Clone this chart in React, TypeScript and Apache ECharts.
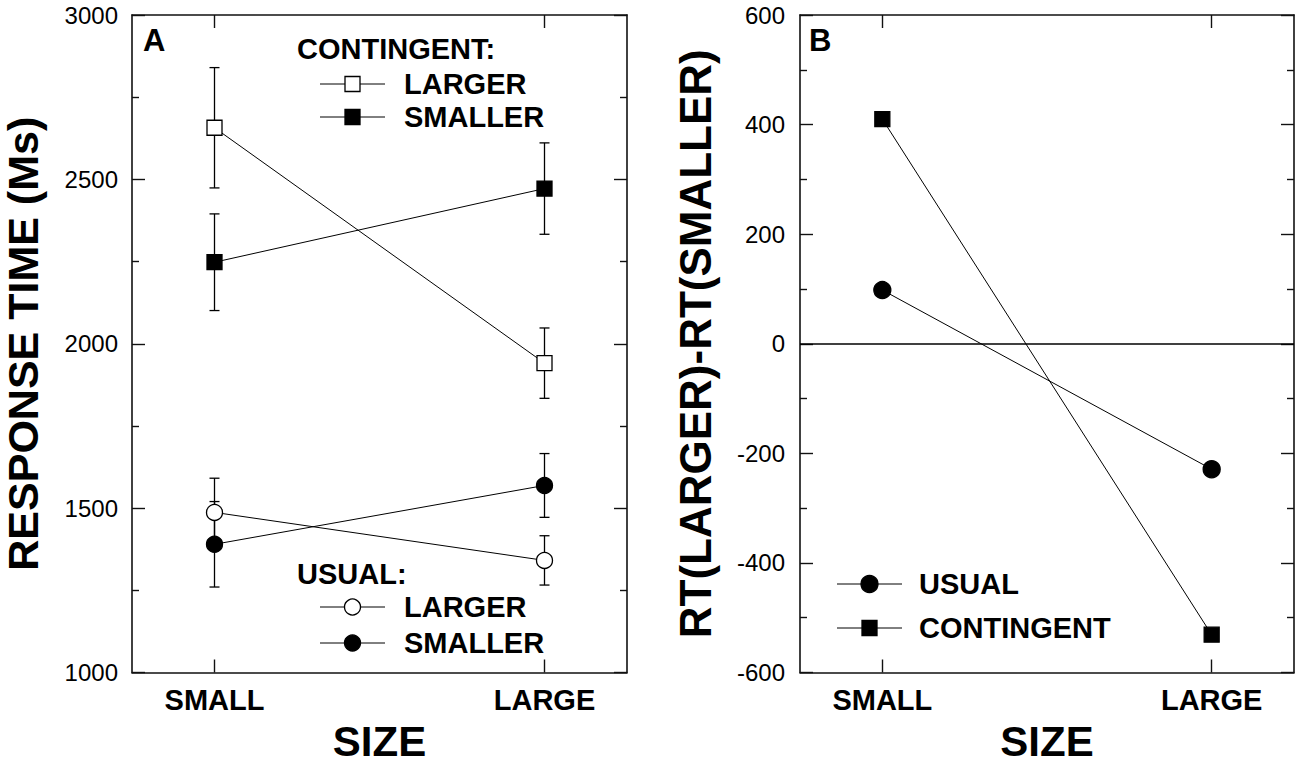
import React, { useEffect, useRef } from 'react';
import * as echarts from 'echarts';

// ---- data ----
const sizeCategories = ['SMALL', 'LARGE'];
const contingentLarger = [2657, 1941];
const contingentLargerErr = [183, 107];
const contingentSmaller = [2248, 2472];
const contingentSmallerErr = [147, 139];
const usualLarger = [1487, 1341];
const usualLargerErr = [104, 75];
const usualSmaller = [1390, 1569];
const usualSmallerErr = [130, 97];
const diffUsual = [98, -229];
const diffContingent = [410, -531];
const rtAxis = { min: 1000, max: 3000, interval: 500 };
const diffAxis = { min: -600, max: 600, interval: 200 };

const FONT = '"Liberation Sans", Arial, Helvetica, sans-serif';
const INK = '#000';
const AXC = '#111';

const xAxisDef = (gridIndex: number, position: 'bottom' | 'top') => ({
  type: 'value',
  gridIndex,
  position,
  min: -0.25,
  max: 1.25,
  axisLine: { show: true, onZero: false, lineStyle: { color: AXC, width: 1.6 } },
  axisTick: {
    show: true,
    inside: true,
    length: 13,
    customValues: [0, 1],
    lineStyle: { color: AXC, width: 1.4 },
  },
  axisLabel: {
    show: position === 'bottom',
    customValues: [0, 1],
    margin: 13,
    formatter: (v: number) => sizeCategories[Math.round(v)] ?? '',
    color: INK,
    fontFamily: FONT,
    fontWeight: 'bold',
    fontSize: 29,
  },
  splitLine: { show: false },
  ...(position === 'bottom'
    ? {
        name: 'SIZE',
        nameLocation: 'middle',
        nameGap: 51.5,
        nameTextStyle: { color: INK, fontFamily: FONT, fontWeight: 'bold', fontSize: 42, lineHeight: 34 },
      }
    : {}),
});

const yAxisDef = (
  gridIndex: number,
  position: 'left' | 'right',
  range: { min: number; max: number; interval: number },
  name: string,
  nameGap: number,
  nameSize: number,
  labelMargin: number
) => ({
  type: 'value',
  gridIndex,
  position,
  min: range.min,
  max: range.max,
  interval: range.interval,
  axisLine: { show: true, onZero: false, lineStyle: { color: AXC, width: 1.6 } },
  axisTick: { show: true, inside: true, length: 13, lineStyle: { color: AXC, width: 1.4 } },
  minorTick: { show: true, splitNumber: 2, length: 7, lineStyle: { color: AXC, width: 1.4 } },
  axisLabel: {
    show: position === 'left',
    margin: labelMargin,
    formatter: (v: number) => String(v),
    color: INK,
    fontFamily: FONT,
    fontSize: 24,
  },
  splitLine: { show: false },
  ...(position === 'left'
    ? {
        name,
        nameLocation: 'middle',
        nameGap,
        nameTextStyle: {
          color: INK,
          fontFamily: FONT,
          fontWeight: 'bold',
          fontSize: nameSize,
          lineHeight: 34,
        },
      }
    : {}),
});

const errorRender = (_params: any, api: any) => {
  const x = api.value(0);
  const lo = api.coord([x, api.value(1)]);
  const hi = api.coord([x, api.value(2)]);
  const w = 5;
  const style = { stroke: INK, lineWidth: 1.3 };
  return {
    type: 'group',
    children: [
      { type: 'line', shape: { x1: lo[0], y1: lo[1], x2: hi[0], y2: hi[1] }, style },
      { type: 'line', shape: { x1: hi[0] - w, y1: hi[1], x2: hi[0] + w, y2: hi[1] }, style },
      { type: 'line', shape: { x1: lo[0] - w, y1: lo[1], x2: lo[0] + w, y2: lo[1] }, style },
    ],
  };
};

const errorSeries = (values: number[], errs: number[]) => ({
  type: 'custom',
  xAxisIndex: 0,
  yAxisIndex: 0,
  silent: true,
  z: 1,
  renderItem: errorRender,
  encode: { x: 0, y: [1, 2] },
  data: values.map((v, i) => [i, v - errs[i], v + errs[i]]),
});

const lineSeries = (
  name: string,
  values: number[],
  axis: number,
  symbol: string,
  size: number,
  fill: string
) => ({
  name,
  type: 'line',
  xAxisIndex: axis,
  yAxisIndex: axis,
  z: 3,
  symbol,
  symbolSize: size,
  showSymbol: true,
  silent: true,
  lineStyle: { color: INK, width: 1 },
  itemStyle: { color: fill, borderColor: INK, borderWidth: 1.3 },
  data: values.map((v, i) => [i, v]),
});

// legend helper (graphic)
const legendRow = (
  x1: number,
  x2: number,
  cy: number,
  marker: 'rect' | 'circle',
  fill: string,
  size: number,
  textX: number,
  label: string
) => {
  const cx = (x1 + x2) / 2;
  const els: any[] = [
    { type: 'line', shape: { x1, y1: cy, x2, y2: cy }, style: { stroke: INK, lineWidth: 1 } },
  ];
  if (marker === 'rect') {
    els.push({
      type: 'rect',
      shape: { x: cx - size / 2, y: cy - size / 2, width: size, height: size },
      style: { fill, stroke: INK, lineWidth: 1.3 },
    });
  } else {
    els.push({
      type: 'circle',
      shape: { cx, cy, r: size / 2 },
      style: { fill, stroke: INK, lineWidth: 1.3 },
    });
  }
  els.push({
    type: 'text',
    x: textX,
    y: cy,
    style: {
      text: label,
      font: `bold 29px ${FONT}`,
      fill: INK,
      textAlign: 'left',
      textVerticalAlign: 'middle',
    },
  });
  return els;
};

const headText = (x: number, y: number, text: string, size: number) => ({
  type: 'text',
  x,
  y,
  style: {
    text,
    font: `bold ${size}px ${FONT}`,
    fill: INK,
    textAlign: 'left',
    textVerticalAlign: 'middle',
  },
});

export default function App() {
  const ref = useRef<HTMLDivElement>(null);

  useEffect(() => {
    if (!ref.current) return;
    const chart = echarts.init(ref.current, undefined, { renderer: 'svg' });
    const option: any = {
      animation: false,
      backgroundColor: '#fff',
      grid: [
        { left: 132, top: 15, width: 495, height: 657.5, containLabel: false, outerBoundsMode: 'none' },
        { left: 800, top: 15, width: 494, height: 657.5, containLabel: false, outerBoundsMode: 'none' },
      ],
      xAxis: [xAxisDef(0, 'bottom'), xAxisDef(0, 'top'), xAxisDef(1, 'bottom'), xAxisDef(1, 'top')],
      yAxis: [
        yAxisDef(0, 'left', rtAxis, 'RESPONSE TIME (Ms)', 92, 43, 14),
        yAxisDef(0, 'right', rtAxis, '', 0, 43, 14),
        yAxisDef(1, 'left', diffAxis, 'RT(LARGER)-RT(SMALLER)', 88, 44, 15),
        yAxisDef(1, 'right', diffAxis, '', 0, 44, 15),
      ],
      series: [
        errorSeries(contingentLarger, contingentLargerErr),
        errorSeries(contingentSmaller, contingentSmallerErr),
        errorSeries(usualLarger, usualLargerErr),
        errorSeries(usualSmaller, usualSmallerErr),
        lineSeries('CONTINGENT LARGER', contingentLarger, 0, 'rect', 15, '#fff'),
        lineSeries('CONTINGENT SMALLER', contingentSmaller, 0, 'rect', 15, INK),
        lineSeries('USUAL LARGER', usualLarger, 0, 'circle', 16, '#fff'),
        lineSeries('USUAL SMALLER', usualSmaller, 0, 'circle', 16, INK),
        {
          ...lineSeries('USUAL', diffUsual, 2, 'circle', 17, INK),
          markLine: {
            silent: true,
            symbol: ['none', 'none'],
            label: { show: false },
            lineStyle: { color: INK, width: 1.5, type: 'solid' },
            data: [{ yAxis: 0 }],
          },
        },
        lineSeries('CONTINGENT', diffContingent, 2, 'rect', 15, INK),
      ],
      graphic: [
        headText(143, 40, 'A', 31),
        headText(809, 40, 'B', 31),
        headText(297, 49, 'CONTINGENT:', 29),
        ...legendRow(320, 385, 84, 'rect', '#fff', 15, 404, 'LARGER'),
        ...legendRow(320, 385, 117, 'rect', INK, 15, 404, 'SMALLER'),
        headText(297, 574, 'USUAL:', 29),
        ...legendRow(320, 385, 607, 'circle', '#fff', 16, 404, 'LARGER'),
        ...legendRow(320, 385, 643, 'circle', INK, 16, 404, 'SMALLER'),
        ...legendRow(837, 902, 584, 'circle', INK, 17, 919, 'USUAL'),
        ...legendRow(837, 902, 628, 'rect', INK, 15, 919, 'CONTINGENT'),
      ],
    };
    chart.setOption(option);
    return () => chart.dispose();
  }, []);

  return (
    <div
      ref={ref}
      style={{ position: 'absolute', left: 0, top: 0, width: 1300, height: 765, background: '#fff' }}
    />
  );
}
